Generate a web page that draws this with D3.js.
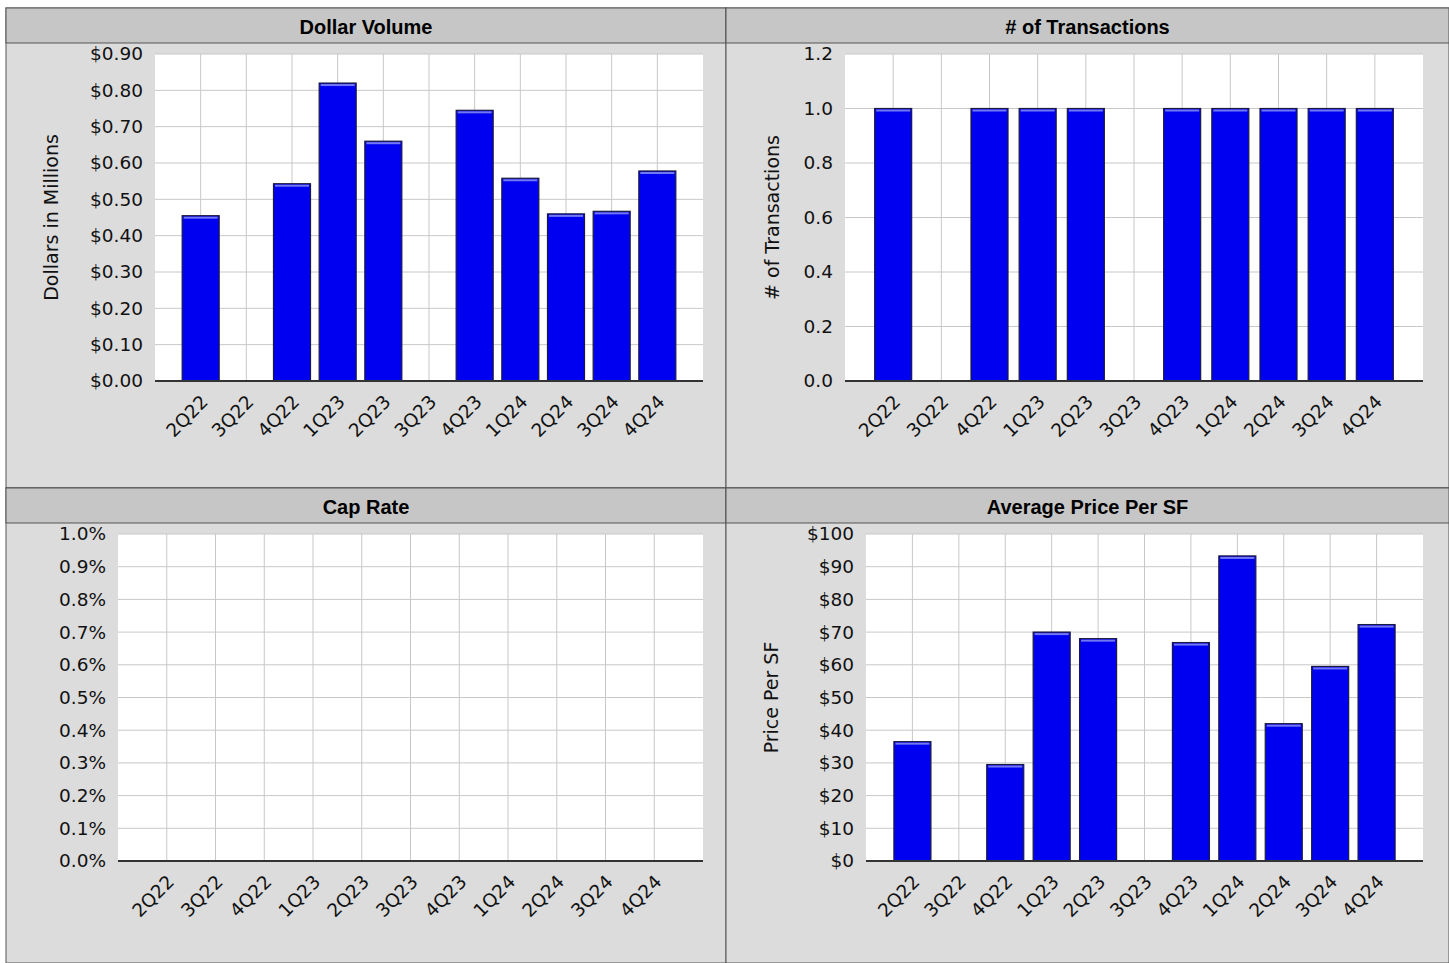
<!DOCTYPE html>
<html lang="en">
<head>
<meta charset="UTF-8">
<title>Sales Charts</title>
<script src="https://d3js.org/d3.v7.min.js"></script>
<style>
  body { margin: 0; background: #fff; }
  .tick text { font-family: "DejaVu Sans", Verdana, sans-serif; font-size: 18.5px; fill: #111; }
  .title { font-family: "Liberation Sans", Arial, sans-serif; font-weight: bold; font-size: 20px; }
  .ytitle { font-family: "DejaVu Sans", Verdana, sans-serif; font-size: 19px; fill: #111; }
</style>
</head>
<body>
<svg width="1449" height="963"></svg>
<script>
const quarters = ["2Q22","3Q22","4Q22","1Q23","2Q23","3Q23","4Q23","1Q24","2Q24","3Q24","4Q24"];
const dollarVolume = [0.455, 0, 0.543, 0.82, 0.66, 0, 0.745, 0.558, 0.46, 0.467, 0.578];
const transactions = [1, 0, 1, 1, 1, 0, 1, 1, 1, 1, 1];
const capRate = [];
const pricePerSF = [36.5, 0, 29.5, 70, 68, 0, 66.8, 93.3, 42, 59.5, 72.3];

const svg = d3.select("svg");

// panel frames
const panels = [
  {x: 6, y: 8, w: 720, h: 480, title: "Dollar Volume"},
  {x: 726, y: 8, w: 723, h: 480, title: "# of Transactions"},
  {x: 6, y: 488, w: 720, h: 475, title: "Cap Rate"},
  {x: 726, y: 488, w: 723, h: 475, title: "Average Price Per SF"}
];
panels.forEach(p => {
  svg.append("rect").attr("x", p.x).attr("y", p.y).attr("width", p.w).attr("height", p.h)
    .attr("fill", "#dcdcdc").attr("stroke", "#555").attr("stroke-width", 1);
  svg.append("rect").attr("x", p.x).attr("y", p.y).attr("width", p.w).attr("height", 35)
    .attr("fill", "#c6c6c6").attr("stroke", "#555").attr("stroke-width", 1);
  svg.append("text").attr("class", "title").attr("x", p.x + p.w / 2).attr("y", p.y + 26)
    .attr("text-anchor", "middle").text(p.title);
});

function drawChart(cfg) {
  const x = d3.scalePoint().domain(quarters).range([cfg.left, cfg.right]).padding(1);
  const y = d3.scaleLinear().domain([0, cfg.max]).range([cfg.bottom, cfg.top]);
  const g = svg.append("g");

  g.append("rect").attr("x", cfg.left).attr("y", cfg.top)
    .attr("width", cfg.right - cfg.left).attr("height", cfg.bottom - cfg.top).attr("fill", "#fff");

  const ticks = d3.range(0, cfg.max + cfg.step / 2, cfg.step);
  g.selectAll(".hg").data(ticks).enter().append("line")
    .attr("x1", cfg.left).attr("x2", cfg.right)
    .attr("y1", d => y(d)).attr("y2", d => y(d)).attr("stroke", "#c8c8c8");
  g.selectAll(".vg").data(quarters).enter().append("line")
    .attr("x1", d => x(d)).attr("x2", d => x(d))
    .attr("y1", cfg.top).attr("y2", cfg.bottom).attr("stroke", "#c8c8c8");

  const bw = 37;
  const bars = g.selectAll(".bar").data(cfg.values.map((v, i) => ({q: quarters[i], v})).filter(d => d.v > 0))
    .enter().append("g");
  bars.append("rect")
    .attr("x", d => x(d.q) - bw / 2).attr("y", d => y(d.v))
    .attr("width", bw).attr("height", d => cfg.bottom - y(d.v))
    .attr("fill", "#0000f0").attr("stroke", "#1a1a40").attr("stroke-width", 1.2);
  bars.append("rect")
    .attr("x", d => x(d.q) - bw / 2 + 1.5).attr("y", d => y(d.v) + 1)
    .attr("width", bw - 3).attr("height", 2).attr("fill", "#7478f0");

  const ya = g.append("g").attr("transform", `translate(${cfg.left},0)`)
    .call(d3.axisLeft(y).tickValues(ticks).tickSize(0).tickPadding(12).tickFormat(cfg.fmt));
  ya.select(".domain").remove();

  const xa = g.append("g").attr("transform", `translate(0,${cfg.bottom})`)
    .call(d3.axisBottom(x).tickSize(0).tickPadding(0));
  xa.select(".domain").remove();
  xa.selectAll("text").attr("text-anchor", "end").attr("dy", 0).attr("y", 0)
    .attr("transform", "translate(8,22) rotate(-45)");

  g.append("line").attr("x1", cfg.left).attr("x2", cfg.right)
    .attr("y1", cfg.bottom).attr("y2", cfg.bottom).attr("stroke", "#333").attr("stroke-width", 2);

  if (cfg.ytitle) {
    g.append("text").attr("class", "ytitle")
      .attr("transform", `translate(${cfg.tx},${(cfg.top + cfg.bottom) / 2}) rotate(-90)`)
      .attr("text-anchor", "middle").text(cfg.ytitle);
  }
}

drawChart({values: dollarVolume, left: 155, right: 703, top: 54, bottom: 381, max: 0.9, step: 0.1,
  fmt: d => "$" + d.toFixed(2), ytitle: "Dollars in Millions", tx: 58});
drawChart({values: transactions, left: 845, right: 1423, top: 54, bottom: 381, max: 1.2, step: 0.2,
  fmt: d => d.toFixed(1), ytitle: "# of Transactions", tx: 779});
drawChart({values: capRate, left: 118, right: 703, top: 534, bottom: 861, max: 1.0, step: 0.1,
  fmt: d => d.toFixed(1) + "%", ytitle: null});
drawChart({values: pricePerSF, left: 866, right: 1423, top: 534, bottom: 861, max: 100, step: 10,
  fmt: d => "$" + d, ytitle: "Price Per SF", tx: 778});
</script>
</body>
</html>
